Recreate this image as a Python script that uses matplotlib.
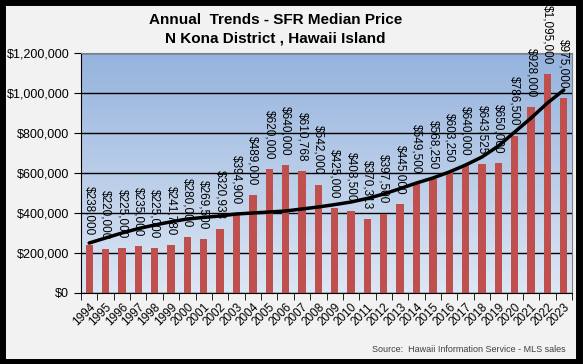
import numpy as np
import matplotlib.pyplot as plt
from matplotlib.colors import LinearSegmentedColormap
from matplotlib.ticker import FuncFormatter
from matplotlib.patches import Rectangle

years = list(range(1994, 2024))
prices = [238000, 220000, 225000, 235000, 225000, 241780, 280000, 269500,
          320938, 394900, 489000, 620000, 640000, 610768, 542000, 425000,
          408500, 370313, 397500, 445000, 549500, 568250, 603250, 640000,
          643525, 650000, 786500, 928000, 1095000, 975000]
labels = ['$' + format(p, ',') for p in prices]
# trendline values
trend = [250000, 275000, 300000, 322000, 340000, 356000, 370000, 378000,
         385000, 395000, 400000, 405000, 410000, 420000, 430000, 442000,
         455000, 473000, 495000, 522000, 550000, 575000, 605000, 640000,
         680000, 735000, 805000, 875000, 950000, 1015000]

plt.rcParams['font.family'] = ['Liberation Sans', 'DejaVu Sans']

fig = plt.figure(figsize=(5.83, 3.64), dpi=100, facecolor='#f2f2f2')
ax = fig.add_axes([81 / 583, 1 - 293 / 364, 491 / 583, 240 / 364])

x = np.arange(len(years))

# gradient background
cmap = LinearSegmentedColormap.from_list('bg', ['#dde7f4', '#95b3dd'])
grad = np.linspace(0, 1, 256).reshape(-1, 1)
ax.imshow(grad, aspect='auto', cmap=cmap, origin='lower',
          extent=[-0.5, len(years) - 0.5, 0, 1200000], zorder=0)

ax.set_axisbelow(True)
ax.grid(axis='y', color='black', linewidth=1, zorder=1)
ax.bar(x, prices, width=0.45, color='#c0504d', zorder=2)

ax.plot(x, trend, color='black', linewidth=2.5, zorder=4,
        solid_joinstyle='round', solid_capstyle='round')

for xi, p, lab in zip(x, prices, labels):
    ax.annotate(lab, (xi, p), xytext=(0, 7), textcoords='offset points',
                rotation=270, ha='center', va='bottom', fontsize=8.5,
                zorder=5, annotation_clip=False)

ax.set_xlim(-0.5, len(years) - 0.5)
ax.set_ylim(0, 1200000)
ax.set_yticks(range(0, 1200001, 200000))
ax.yaxis.set_major_formatter(FuncFormatter(lambda v, pos: '$' + format(int(v), ',')))
ax.set_xticks(x)
ax.set_xticklabels([str(y) for y in years], rotation=45, ha='right',
                   rotation_mode='anchor', fontsize=8.5)
ax.set_xticks(np.arange(-0.5, len(years)), minor=True)
ax.tick_params(axis='x', which='major', length=0, pad=6)
ax.tick_params(axis='x', which='minor', length=5, direction='out')
ax.tick_params(axis='y', length=5, direction='out', labelsize=9)

for side in ['top', 'right']:
    ax.spines[side].set_color('#808080')
ax.spines['left'].set_color('black')
ax.spines['bottom'].set_color('black')

fig.text(0.472, 0.945, 'Annual  Trends - SFR Median Price', ha='center', va='center',
         fontsize=11, fontweight='bold')
fig.text(0.472, 0.895, 'N Kona District , Hawaii Island', ha='center', va='center',
         fontsize=11, fontweight='bold')
fig.text(566 / 583, 1 - 349 / 364, 'Source:  Hawaii Information Service - MLS sales',
         ha='right', va='center', fontsize=6.5, color='#404040')

# black frame
fig.patches.append(Rectangle((0.003, 0.005), 0.99, 0.99, transform=fig.transFigure,
                             fill=False, edgecolor='black', linewidth=5))

fig.savefig('out.png', dpi=100, facecolor=fig.get_facecolor())
